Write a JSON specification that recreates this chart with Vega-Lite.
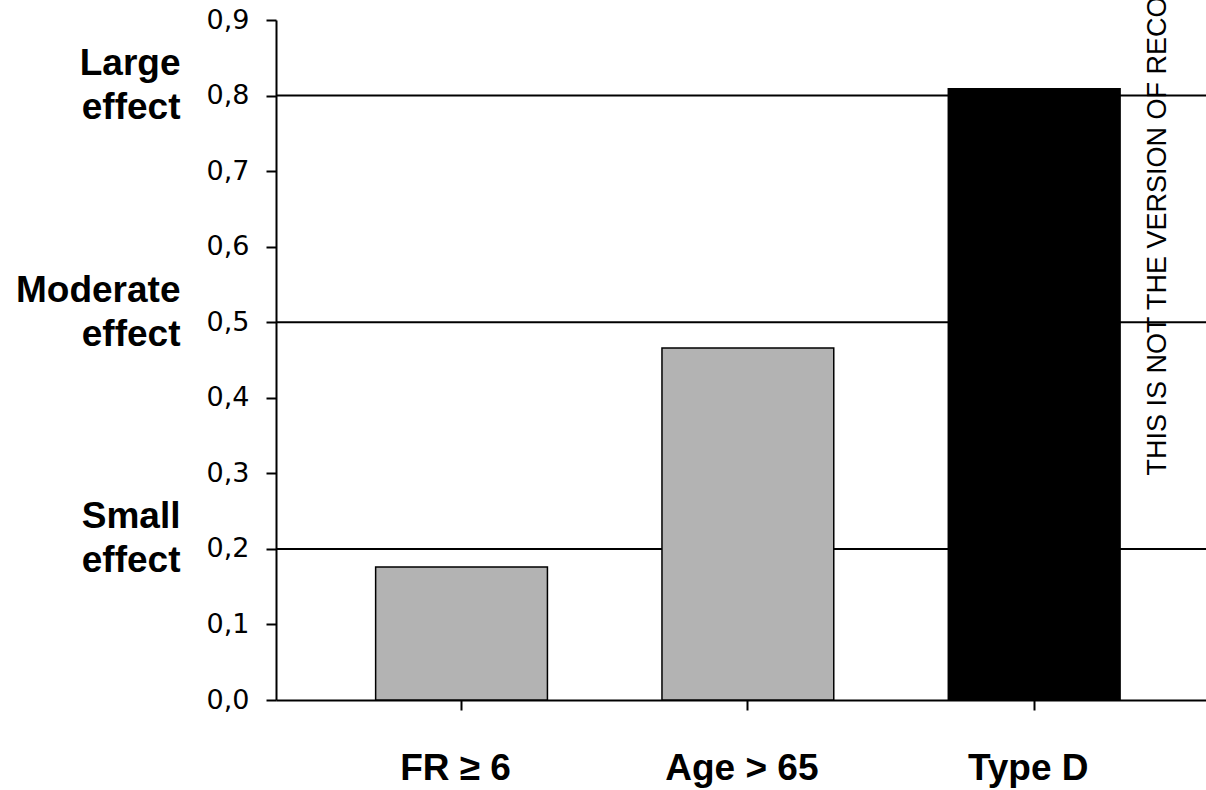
{
  "$schema": "https://vega.github.io/schema/vega-lite/v6.json",
  "width": 930,
  "height": 680,
  "autosize": {"type": "none"},
  "padding": {"left": 276, "top": 20, "right": 0, "bottom": 90},
  "background": "white",
  "config": {"view": {"stroke": null}},
  "layer": [
    {
      "data": {"values": [
        {"level": "Small effect", "threshold": 0.2},
        {"level": "Moderate effect", "threshold": 0.5},
        {"level": "Large effect", "threshold": 0.8}
      ]},
      "mark": {"type": "rule", "color": "black", "strokeWidth": 2},
      "encoding": {
        "y": {
          "field": "threshold",
          "type": "quantitative",
          "scale": {"domain": [0, 0.9], "nice": false, "zero": true},
          "axis": {
            "orient": "left",
            "values": [0.2, 0.5, 0.8],
            "domain": false,
            "ticks": false,
            "grid": false,
            "title": null,
            "labelExpr": "datum.value < 0.3 ? ['Small', 'effect'] : datum.value < 0.6 ? ['Moderate', 'effect'] : ['Large', 'effect']",
            "labelFont": "Liberation Sans",
            "labelFontWeight": "bold",
            "labelFontSize": 37,
            "labelColor": "black",
            "labelAlign": "right",
            "labelBaseline": "middle",
            "labelLineHeight": 44,
            "labelPadding": 96,
            "labelOffset": -32,
            "labelOverlap": false,
            "labelBound": false,
            "labelFlush": false
          }
        }
      }
    },
    {
      "data": {"values": [
        {"group": "FR ≥ 6", "effect": 0.176, "highlight": "no"},
        {"group": "Age > 65", "effect": 0.466, "highlight": "no"},
        {"group": "Type D", "effect": 0.809, "highlight": "yes"}
      ]},
      "mark": {"type": "bar", "stroke": "black", "strokeWidth": 1.5},
      "encoding": {
        "x": {
          "field": "group",
          "type": "nominal",
          "sort": null,
          "scale": {"paddingInner": 0.4, "paddingOuter": 0.324, "align": 0.537},
          "axis": {
            "title": null,
            "labelAngle": 0,
            "domain": true,
            "domainColor": "black",
            "domainWidth": 2,
            "ticks": true,
            "tickColor": "black",
            "tickSize": 10,
            "tickWidth": 2,
            "labelFont": "Liberation Sans",
            "labelFontWeight": "bold",
            "labelFontSize": 37,
            "labelColor": "black",
            "labelPadding": 40,
            "labelOffset": -6
          }
        },
        "y": {
          "field": "effect",
          "type": "quantitative",
          "scale": {"domain": [0, 0.9], "nice": false, "zero": true},
          "axis": {
            "orient": "left",
            "values": [0, 0.1, 0.2, 0.3, 0.4, 0.5, 0.6, 0.7, 0.8, 0.9],
            "labelExpr": "replace(format(datum.value, '.1f'), '.', ',')",
            "grid": false,
            "domain": true,
            "domainColor": "black",
            "domainWidth": 2,
            "tickColor": "black",
            "tickSize": 10,
            "tickWidth": 2,
            "labelFont": "DejaVu Sans",
            "labelFontSize": 27,
            "labelColor": "black",
            "labelPadding": 17,
            "labelFlush": false,
            "labelOverlap": false,
            "title": "THIS IS NOT THE VERSION OF RECO",
            "titleFont": "Liberation Sans",
            "titleFontWeight": "normal",
            "titleFontSize": 27,
            "titleColor": "black",
            "titleAngle": 270,
            "titleAlign": "left",
            "titleBaseline": "middle",
            "titleX": 881,
            "titleY": 455
          }
        },
        "color": {
          "field": "highlight",
          "type": "nominal",
          "scale": {"domain": ["no", "yes"], "range": ["#b3b3b3", "#000000"]},
          "legend": null
        }
      }
    }
  ],
  "resolve": {"axis": {"y": "independent"}}
}
